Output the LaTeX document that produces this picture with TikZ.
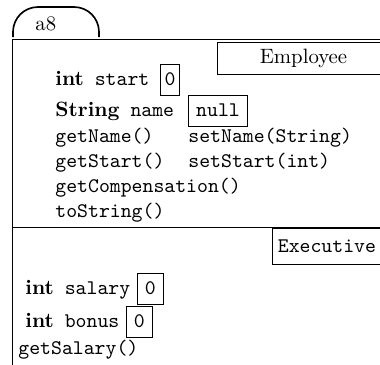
\documentclass[tikz,border=0pt]{standalone}
\usetikzlibrary{positioning}

\begin{document}
\begin{tikzpicture}[
    x=0.4817pt,
    y=-0.4817pt,
    campo/.style={
        anchor=base west,
        inner sep=0pt
    },
    metodo/.style={
        campo,
        font=\ttfamily
    },
    valor/.style={
        draw,
        anchor=base west,
        inner xsep=2pt,
        inner ysep=1.3pt,
        font=\ttfamily
    },
    classe/.style={
        draw,
        anchor=north west,
        inner sep=0pt
    }
]

\useasboundingbox (0,0) rectangle (380,364);
\clip (0,0) rectangle (380,364);

% Aba do objeto
\draw[thick, rounded corners=12pt] (13,37) -- (13,7) -- (99,7) -- (99,37);
\node[campo] (nome) at (35,30) {a8};

% Moldura
\coordinate (topo) at (12.7,39.5);
\coordinate (topoD) at (400,39.5);
\coordinate (base) at (12.7,370);
\coordinate (div) at (12.7,227);
\coordinate (divD) at (400,227);
\draw (base) -- (topo) -- (topoD);
\draw (div) -- (divD);

% Employee
\node[classe, minimum width=82.9pt, minimum height=15.6pt] (employee) at (217,41.7) {Employee};

\node[campo] (start) at (55,85) {\textbf{int}\texttt{ start}};
\node[valor] (vstart) at (160,85) {\strut 0};
\node[campo] (name) at (55,116) {\textbf{String}\texttt{ name}};
\node[valor, minimum width=28.5pt] (vname) at (188,116) {\strut null};

\node[metodo] (getname) at (55,142) {getName()};
\node[metodo] (setname) at (188,142) {setName(String)};
\node[metodo] (getstart) at (55,167) {getStart()};
\node[metodo] (setstart) at (188,167) {setStart(int)};
\node[metodo] (getcomp) at (55,192) {getCompensation()};
\node[metodo] (tostring) at (55,217) {toString()};

% Executive
\node[classe, font=\ttfamily, minimum width=52.5pt, minimum height=17.3pt] (executive) at (272,228) {Executive};

\node[campo] (salary) at (25,294) {\textbf{int}\texttt{ salary}};
\node[valor, minimum width=12.5pt] (vsalary) at (137,294) {\strut 0};
\node[campo] (bonus) at (25,327) {\textbf{int}\texttt{ bonus}};
\node[valor, minimum width=12.5pt] (vbonus) at (126,327) {\strut 0};
\node[metodo] (getsalary) at (18,354) {getSalary()};

\end{tikzpicture}
\end{document}
